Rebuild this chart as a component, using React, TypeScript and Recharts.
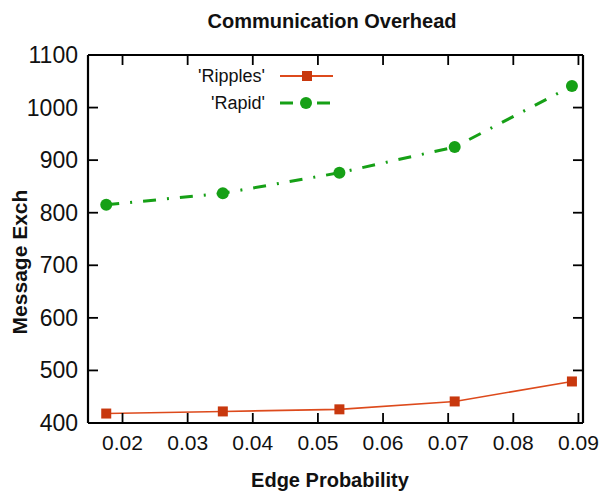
import React from 'react';
import { LineChart, Line, XAxis, YAxis } from 'recharts';

const edgeProbability = [0.0175, 0.0354, 0.0533, 0.071, 0.089];
const ripples = [418, 422, 426, 441, 479];
const rapid = [815, 837, 876, 925, 1041];
const xTicks = [0.02, 0.03, 0.04, 0.05, 0.06, 0.07, 0.08, 0.09];
const yTicks = [400, 500, 600, 700, 800, 900, 1000, 1100];
const xDomain = [0.0147, 0.0907];
const yDomain = [400, 1100];
const seriesNames = ["'Ripples'", "'Rapid'"];

const data = edgeProbability.map((x, i) => ({ x, ripples: ripples[i], rapid: rapid[i] }));

const FONT = '"Liberation Sans", Arial, sans-serif';
const TICK_LEN = 10;
const RED_LINE = '#dd4a1c';
const RED_MARK = '#c8380e';
const GREEN = '#16a016';

const renderLeftTick = (p: any) => (
  <text x={Number(p.x) - TICK_LEN - 10} y={Number(p.y)} textAnchor="end" dominantBaseline="central" fontFamily={FONT} fontSize={23} fill="#111">
    {p.payload.value}
  </text>
);
const renderBottomTick = (p: any) => (
  <text x={Number(p.x)} y={Number(p.y) + TICK_LEN + 19} textAnchor="middle" dominantBaseline="central" fontFamily={FONT} fontSize={21} fill="#111">
    {Number(p.payload.value).toFixed(2)}
  </text>
);
const renderNothing = () => <g />;

const Square = (p: any) => {
  if (p.cx == null || p.cy == null) return null;
  return <rect key={`s${p.index}`} x={p.cx - 5} y={p.cy - 5} width={10} height={10} fill={RED_MARK} />;
};
const Dot = (p: any) => {
  if (p.cx == null || p.cy == null) return null;
  return <circle key={`c${p.index}`} cx={p.cx} cy={p.cy} r={6} fill={GREEN} />;
};

const axisLine = { stroke: '#000', strokeWidth: 2.2 };
const tickLine = { stroke: '#000', strokeWidth: 1.8 };

export default function App() {
  return (
    <div style={{ position: 'absolute', left: 0, top: 0, width: 602, height: 494, background: '#fff' }}>
      <LineChart
        width={602}
        height={494}
        data={data}
        margin={{ top: 54, right: 18, bottom: 0, left: 0 }}
      >
        <XAxis
          xAxisId="bottom"
          dataKey="x"
          type="number"
          domain={xDomain}
          ticks={xTicks}
          height={71}
          tickSize={-TICK_LEN}
          tickMargin={0}
          tickLine={tickLine}
          axisLine={axisLine}
          tick={renderBottomTick}
          allowDataOverflow
        />
        <XAxis
          xAxisId="top"
          orientation="top"
          dataKey="x"
          type="number"
          domain={xDomain}
          ticks={xTicks}
          height={1}
          tickSize={-TICK_LEN}
          tickMargin={0}
          tickLine={tickLine}
          axisLine={axisLine}
          tick={renderNothing}
          allowDataOverflow
        />
        <YAxis
          yAxisId="left"
          type="number"
          domain={yDomain}
          ticks={yTicks}
          width={88}
          tickSize={-TICK_LEN}
          tickMargin={0}
          tickLine={tickLine}
          axisLine={axisLine}
          tick={renderLeftTick}
          allowDataOverflow
        />
        <YAxis
          yAxisId="right"
          orientation="right"
          type="number"
          domain={yDomain}
          ticks={yTicks}
          width={1}
          tickSize={-TICK_LEN}
          tickMargin={0}
          tickLine={tickLine}
          axisLine={axisLine}
          tick={renderNothing}
          allowDataOverflow
        />
        <Line
          xAxisId="top"
          yAxisId="right"
          dataKey="ripples"
          stroke="none"
          dot={false}
          activeDot={false}
          legendType="none"
          isAnimationActive={false}
        />
        <Line
          xAxisId="bottom"
          yAxisId="left"
          dataKey="ripples"
          name={seriesNames[0]}
          stroke={RED_LINE}
          strokeWidth={1.6}
          dot={Square}
          isAnimationActive={false}
        />
        <Line
          xAxisId="bottom"
          yAxisId="left"
          dataKey="rapid"
          name={seriesNames[1]}
          stroke={GREEN}
          strokeWidth={3}
          strokeDasharray="13 11 2 11"
          dot={Dot}
          isAnimationActive={false}
        />
      </LineChart>

      <div style={{ position: 'absolute', left: 0, width: 664, top: 9, textAlign: 'center', fontFamily: FONT, fontWeight: 'bold', fontSize: 20, lineHeight: '24px', color: '#111' }}>
        Communication Overhead
      </div>
      <div style={{ position: 'absolute', left: 0, width: 660, top: 468, textAlign: 'center', fontFamily: FONT, fontWeight: 'bold', fontSize: 20, lineHeight: '24px', color: '#111' }}>
        Edge Probability
      </div>
      <div style={{ position: 'absolute', left: 20, top: 262, width: 0, height: 0 }}>
        <div style={{ position: 'absolute', left: -100, top: -12, width: 200, textAlign: 'center', transform: 'rotate(-90deg)', fontFamily: FONT, fontWeight: 'bold', fontSize: 21, lineHeight: '24px', color: '#111', whiteSpace: 'nowrap' }}>
          Message Exch
        </div>
      </div>
      <div style={{ position: 'absolute', left: 150, top: 63, width: 115, textAlign: 'right', fontFamily: FONT, fontSize: 18, lineHeight: '27px', color: '#111' }}>
        <div>{seriesNames[0]}</div>
        <div>{seriesNames[1]}</div>
      </div>
      <svg style={{ position: 'absolute', left: 275, top: 63 }} width={65} height={52}>
        <line x1={5} x2={58} y1={13} y2={13} stroke={RED_LINE} strokeWidth={2} />
        <rect x={27} y={8} width={10} height={10} fill={RED_MARK} />
        <line x1={5} x2={55} y1={40} y2={40} stroke={GREEN} strokeWidth={3} strokeDasharray="13 11 2 11" />
        <circle cx={31} cy={40} r={6} fill={GREEN} />
      </svg>
    </div>
  );
}
